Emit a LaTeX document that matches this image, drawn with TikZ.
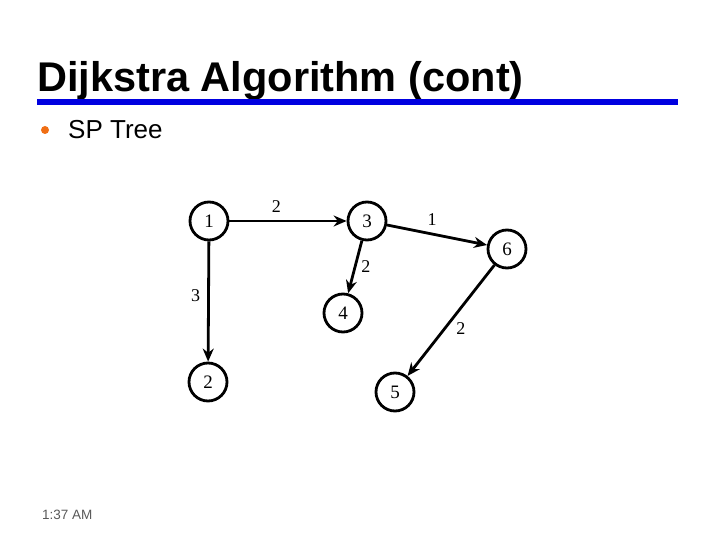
\documentclass[tikz,border=0pt]{standalone}
\usepackage{fontspec}
\setmainfont{Liberation Serif}
\setsansfont{Liberation Sans}
\usetikzlibrary{arrows.meta, positioning}

\definecolor{titleblue}{RGB}{0,0,224}
\definecolor{bulletorange}{RGB}{240,110,20}

\begin{document}
\begin{tikzpicture}[x=1pt, y=-1pt,
    vertex/.style={draw, circle, line width=2.8pt, minimum size=38pt, inner sep=0pt, font=\fontsize{19}{19}\selectfont},
    edge/.style={-{Stealth[length=13pt, width=11pt]}, line width=2.8pt},
    weight/.style={font=\fontsize{18}{18}\selectfont, inner sep=2pt}]
    \useasboundingbox (0,0) rectangle (720,540);

    % title and bullet
    \node[anchor=base west, inner sep=0pt, font=\sffamily\bfseries\fontsize{41.5}{41.5}\selectfont] (title) at (37,92) {Dijkstra Algorithm (cont)};
    \draw[titleblue, line width=6pt] (37,102) -- (678,102);
    \fill[bulletorange] (45,130) circle (4);
    \node[anchor=base west, inner sep=0pt, font=\sffamily\fontsize{26}{26}\selectfont] (item) at (68,139) {SP Tree};

    % SP tree
    \node[vertex] (n1) at (209,221) {1};
    \node[vertex] (n3) at (367,221) {3};
    \node[vertex] (n6) at (507,249) {6};
    \node[vertex] (n4) at (343,313) {4};
    \node[vertex] (n2) at (208,382) {2};
    \node[vertex] (n5) at (395,392) {5};

    \draw[edge] (n1) -- (n3) node[weight, pos=0.4, above=5pt] {2};
    \draw[edge] (n3) -- (n6) node[weight, pos=0.45, above=5pt] {1};
    \draw[edge] (n3) -- (n4) node[weight, midway, right=3pt] {2};
    \draw[edge] (n1) -- (n2) node[weight, pos=0.45, left=5pt] {3};
    \draw[edge] (n6) -- (n5) node[weight, pos=0.57, right=8pt] {2};

    % footer
    \node[anchor=base west, inner sep=0pt, text=black!65, font=\sffamily\fontsize{13.5}{13.5}\selectfont] (time) at (42,519) {1:37 AM};
\end{tikzpicture}
\end{document}
